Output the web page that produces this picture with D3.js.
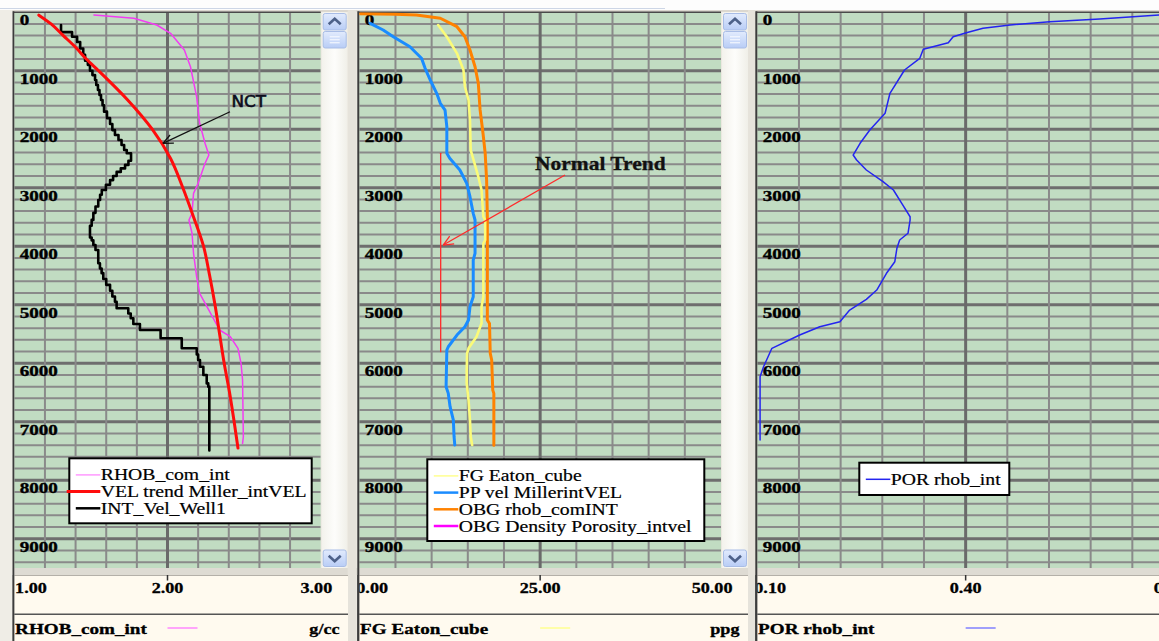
<!DOCTYPE html>
<html>
<head>
<meta charset="utf-8">
<script src="https://cdn.jsdelivr.net/npm/d3@7"></script>
<style>
  html, body { margin: 0; padding: 0; background: #ffffff; overflow: hidden; }
  svg { display: block; }
</style>
</head>
<body>
<svg id="chart" width="1159" height="641"></svg>
<script>
// ---------------------------------------------------------------
// Well-log tracks: depth (ft) vs. log values, three side-by-side tracks
// ---------------------------------------------------------------

// Depth axis
const depthLabels = [0, 1000, 2000, 3000, 4000, 5000, 6000, 7000, 8000, 9000];
const depthMax = 9500;

// Track 1 : density / velocity  [depth, value]
const rhobComInt = [[48,1.52],[104,1.78],[219,1.93],[361,2.02],[646,2.11],[932,2.15],[1444,2.19],[1899,2.21],[2241,2.245],[2441,2.27],[2583,2.245],[2925,2.20],[3096,2.17],[3438,2.16],[3552,2.14],[3779,2.16],[4121,2.17],[4521,2.19],[4805,2.21],[5091,2.27],[5432,2.34],[5547,2.41],[5745,2.46],[6002,2.48],[6287,2.49],[7256,2.495],[7370,2.49]];
const velTrendMiller = [[50,1.16],[200,1.24],[400,1.32],[600,1.40],[800,1.47],[1000,1.55],[1500,1.74],[2000,1.90],[2500,2.02],[3000,2.10],[3500,2.17],[4000,2.235],[4500,2.275],[5000,2.31],[5500,2.34],[6000,2.37],[6500,2.405],[7000,2.435],[7450,2.46]];
const intVelWell1 = [[220,1.305],[340,1.377],[420,1.41],[510,1.43],[620,1.45],[730,1.462],[830,1.48],[900,1.494],[1000,1.51],[1075,1.527],[1160,1.535],[1245,1.546],[1330,1.556],[1415,1.566],[1500,1.576],[1590,1.586],[1700,1.605],[1810,1.625],[1910,1.64],[2015,1.657],[2100,1.68],[2185,1.70],[2270,1.717],[2355,1.734],[2410,1.762],[2540,1.745],[2610,1.723],[2670,1.695],[2730,1.668],[2800,1.645],[2870,1.625],[2950,1.598],[3040,1.571],[3120,1.56],[3210,1.548],[3320,1.53],[3430,1.516],[3550,1.505],[3650,1.494],[3850,1.505],[3900,1.516],[3980,1.53],[4065,1.548],[4290,1.559],[4380,1.57],[4460,1.581],[4560,1.60],[4660,1.625],[4760,1.64],[4860,1.657],[4950,1.668],[5060,1.744],[5150,1.76],[5230,1.777],[5330,1.82],[5433,1.955],[5574,2.093],[5745,2.191],[5850,2.20],[5945,2.212],[6060,2.234],[6200,2.256],[6345,2.266],[6400,2.273],[7490,2.273]];

// Track 2 : pressure gradients (ppg)
const fgEatonCube = [[219,10.9],[419,12.1],[703,13.5],[988,14.4],[1274,14.6],[1501,15.1],[1843,15.3],[2356,15.4],[2527,15.8],[2812,16.45],[3039,16.9],[3496,17.15],[3552,17.4],[3894,17.4],[3950,17.15],[4863,17.15],[5034,16.9],[5318,16.9],[5547,16.2],[5745,15.1],[5831,14.9],[6116,14.85],[6344,14.85],[6629,15.1],[6971,15.3],[7256,15.4],[7398,15.6]];
const ppVelMiller = [[190,1.5],[304,3.3],[419,4.7],[590,7.0],[788,8.6],[959,9.1],[1159,9.8],[1386,10.7],[1557,11.2],[1672,11.85],[1957,12.1],[2412,12.1],[2497,12.5],[2697,13.9],[2925,14.85],[3154,15.3],[3438,15.75],[3552,16.0],[4121,16.0],[4236,15.75],[4863,15.75],[5034,15.3],[5262,15.1],[5376,14.6],[5518,13.5],[5718,12.3],[5775,12.1],[6402,12.0],[6515,12.3],[6743,12.55],[6971,13.0],[7256,13.1],[7398,13.2]];
const obgRhobComInt = [[25,0.1],[35,5.0],[48,7.9],[104,11.2],[248,13.5],[419,14.6],[646,15.3],[932,16.0],[1215,16.45],[1670,16.7],[2070,17.1],[2410,17.4],[2870,17.6],[3500,17.7],[5260,17.7],[5320,18.0],[5830,18.1],[5945,18.3],[6460,18.45],[6515,18.6],[7400,18.6]];
const normalTrend = [[2412,11.25],[5803,11.25]];

// Track 3 : porosity
const porRhobInt = [[30,0.75],[48,0.68],[77,0.641],[116,0.593],[162,0.521],[219,0.464],[275,0.425],[350,0.401],[419,0.382],[521,0.375],[634,0.339],[788,0.334],[988,0.312],[1386,0.291],[1728,0.284],[2014,0.262],[2241,0.248],[2441,0.238],[2527,0.243],[2697,0.257],[2897,0.281],[3039,0.296],[3267,0.308],[3496,0.32],[3552,0.32],[3779,0.317],[3894,0.305],[4036,0.301],[4265,0.298],[4463,0.286],[4749,0.272],[4908,0.257],[5091,0.233],[5291,0.219],[5376,0.19],[5518,0.161],[5745,0.121],[6060,0.109],[6231,0.104],[7312,0.104]];

// Header scale labels per track
const track1Ticks = ["1.00", "2.00", "3.00"];
const track2Ticks = ["0.00", "25.00", "50.00"];
const track3Ticks = ["0.10", "0.40", "0.70"];

// Legend names
const track1Legend = ["RHOB_com_int", "VEL trend Miller_intVEL", "INT_Vel_Well1"];
const track2Legend = ["FG Eaton_cube", "PP vel MillerintVEL", "OBG rhob_comINT", "OBG Density Porosity_intvel"];
const track3Legend = ["POR rhob_int"];

// ---------------------------------------------------------------
const SERIF = "'Liberation Serif','Times New Roman',serif";
const SANS = "'DejaVu Sans','Verdana',sans-serif";
const svg = d3.select("#chart");

const PLOT_TOP = 12.2, PLOT_BOTTOM = 568;
const y = d3.scaleLinear().domain([0, depthMax]).range([PLOT_TOP, PLOT_BOTTOM]);

const tracks = [
  { x0: 14.3, x1: 320.7, domain: [1, 3], ticks: track1Ticks, labelStart: 0.8, scroll: true,
    headerRight: 348, title: "RHOB_com_int", unit: "g/cc", sampleColor: "#ff88ff" },
  { x0: 359.3, x1: 721, domain: [0, 50], ticks: track2Ticks, labelStart: -3, scroll: true,
    headerRight: 748, title: "FG Eaton_cube", unit: "ppg", sampleColor: "#ffff90" },
  { x0: 757.3, x1: 1174, domain: [0.1, 0.7], ticks: track3Ticks, labelStart: -3, scroll: false,
    headerRight: 1190, title: "POR rhob_int", unit: "", sampleColor: "#8080ff" }
];
tracks.forEach(t => { t.x = d3.scaleLinear().domain(t.domain).range([t.x0, t.x1]); });

function stext(g, x, yy, s, o) {
  const el = g.append("text")
    .attr("transform", `translate(${x},${yy}) scale(${o.sx || 1},1)`)
    .attr("text-anchor", o.anchor || "start")
    .attr("font-family", o.family || SERIF)
    .attr("font-size", o.size)
    .attr("font-weight", o.weight || "normal")
    .attr("fill", o.fill || "#000")
    .text(s);
  if (o.heavy) el.attr("stroke", o.fill || "#000").attr("stroke-width", o.heavy);
  return el;
}

const defs = svg.append("defs");
const btnGrad = defs.append("linearGradient").attr("id", "btnGrad").attr("x1", 0).attr("y1", 0).attr("x2", 0).attr("y2", 1);
btnGrad.append("stop").attr("offset", "0%").attr("stop-color", "#e2ebfd");
btnGrad.append("stop").attr("offset", "100%").attr("stop-color", "#b9cdf6");
const trackGrad = defs.append("linearGradient").attr("id", "trackGrad").attr("x1", 0).attr("y1", 0).attr("x2", 1).attr("y2", 0);
trackGrad.append("stop").attr("offset", "0%").attr("stop-color", "#f3f2ec");
trackGrad.append("stop").attr("offset", "50%").attr("stop-color", "#fdfdfb");
trackGrad.append("stop").attr("offset", "100%").attr("stop-color", "#f0efe8");

// Window background
svg.append("rect").attr("width", 1159).attr("height", 641).attr("fill", "#ebe8e0");
svg.append("rect").attr("x", 0).attr("y", 0).attr("width", 1159).attr("height", 10).attr("fill", "#fdfdfd");
svg.append("line").attr("x1", 0).attr("x2", 665).attr("y1", 8.5).attr("y2", 8.5).attr("stroke", "#cdd6e6").attr("stroke-width", 1);
svg.append("rect").attr("x", 0).attr("y", 10).attr("width", 1159).attr("height", 2).attr("fill", "#dcd8d0");
svg.append("rect").attr("x", 0).attr("y", PLOT_BOTTOM).attr("width", 1159).attr("height", 7).attr("fill", "#dedbd3");

tracks.forEach((t, i) => {
  const g = svg.append("g");
  const clipId = "clip" + i;
  defs.append("clipPath").attr("id", clipId).append("rect")
    .attr("x", t.x0).attr("y", PLOT_TOP).attr("width", t.x1 - t.x0).attr("height", PLOT_BOTTOM - PLOT_TOP);

  // plot background
  g.append("rect").attr("x", t.x0).attr("y", PLOT_TOP).attr("width", t.x1 - t.x0)
    .attr("height", PLOT_BOTTOM - PLOT_TOP).attr("fill", "#c1dcc2");

  const grid = g.append("g").attr("clip-path", `url(#${clipId})`);
  // horizontal grid: every 200 ft, heavier every 1000 ft
  d3.range(200, depthMax + 1, 200).forEach(d => {
    const major = d % 1000 === 0;
    grid.append("line").attr("x1", t.x0).attr("x2", t.x1).attr("y1", y(d)).attr("y2", y(d))
      .attr("stroke", major ? "#6e6e6e" : "#8a8a8a").attr("stroke-width", major ? 3 : 2);
  });
  // vertical grid: ten divisions, heavier centre line
  d3.range(1, 10).forEach(k => {
    const v = t.domain[0] + (t.domain[1] - t.domain[0]) * k / 10;
    grid.append("line").attr("x1", t.x(v)).attr("x2", t.x(v)).attr("y1", PLOT_TOP).attr("y2", PLOT_BOTTOM)
      .attr("stroke", k === 5 ? "#6a6a6a" : "#8a8a8a").attr("stroke-width", k === 5 ? 3 : 2);
  });

  // depth labels
  depthLabels.forEach(d => {
    stext(grid, t.x0 + 5.5, y(d) + 12.8, String(d), { size: 14, weight: "bold", sx: 1.36, heavy: 0.35 });
  });

  // frame
  g.append("line").attr("x1", t.x0 - 1).attr("x2", t.x1).attr("y1", PLOT_TOP).attr("y2", PLOT_TOP)
    .attr("stroke", "#4a4a4a").attr("stroke-width", 1.5);
  g.append("line").attr("x1", t.x0 - 1).attr("x2", t.x0 - 1).attr("y1", PLOT_TOP - 1).attr("y2", 641)
    .attr("stroke", "#3c3c3c").attr("stroke-width", 2);

  t.g = g; t.clip = clipId;

  // scrollbar
  if (t.scroll) {
    const sx0 = t.x1 + 1, sw = 26;
    g.append("rect").attr("x", sx0).attr("y", PLOT_TOP).attr("width", sw).attr("height", PLOT_BOTTOM - PLOT_TOP).attr("fill", "url(#trackGrad)");
    const btn = (by, h, kind) => {
      g.append("rect").attr("x", sx0 + 1.5).attr("y", by).attr("width", sw - 3).attr("height", h)
        .attr("rx", 2).attr("fill", "url(#btnGrad)").attr("stroke", "#a9bde6").attr("stroke-width", 1);
      const cx = sx0 + sw / 2, cy = by + h / 2;
      if (kind === "up") {
        g.append("polyline").attr("points", `${cx-6},${cy+2.5} ${cx},${cy-3} ${cx+6},${cy+2.5}`)
          .attr("fill", "none").attr("stroke", "#4d6189").attr("stroke-width", 2.6);
      } else if (kind === "down") {
        g.append("polyline").attr("points", `${cx-6},${cy-2.5} ${cx},${cy+3} ${cx+6},${cy-2.5}`)
          .attr("fill", "none").attr("stroke", "#4d6189").attr("stroke-width", 2.6);
      } else {
        [-3, 0, 3].forEach(o => g.append("line").attr("x1", cx - 5).attr("x2", cx + 5).attr("y1", cy + o).attr("y2", cy + o)
          .attr("stroke", "#f4f7fe").attr("stroke-width", 1.2));
      }
    };
    btn(13.5, 16.5, "up");
    btn(31.5, 16.5, "thumb");
    btn(550, 16.5, "down");
    // gap between tracks
    g.append("rect").attr("x", sx0 + sw).attr("y", PLOT_TOP - 2).attr("width", 8.5).attr("height", 641).attr("fill", "#e6e3db");
  }

  // header (scale) panel
  const hx0 = t.x0 - 0.5, hx1 = t.headerRight;
  defs.append("clipPath").attr("id", "hclip" + i).append("rect")
    .attr("x", hx0 + 0.5).attr("y", 575).attr("width", hx1 - hx0).attr("height", 66);
  const hg = svg.append("g").attr("clip-path", `url(#hclip${i})`);
  hg.append("rect").attr("x", hx0).attr("y", 575).attr("width", hx1 - hx0).attr("height", 66).attr("fill", "#fffaef");
  hg.append("line").attr("x1", hx0).attr("x2", hx1).attr("y1", 575.5).attr("y2", 575.5).attr("stroke", "#b4b0a8").attr("stroke-width", 1);
  const mid = (t.domain[0] + t.domain[1]) / 2;
  hg.append("line").attr("x1", t.x(mid)).attr("x2", t.x(mid)).attr("y1", 575).attr("y2", 580.5)
    .attr("stroke", "#333").attr("stroke-width", 1.5);
  const hs = { size: 14.5, weight: "bold", sx: 1.25, heavy: 0.3 };
  stext(hg, t.x0 + t.labelStart, 593, t.ticks[0], hs);
  stext(hg, t.x(mid), 593, t.ticks[1], Object.assign({}, hs, { anchor: "middle" }));
  stext(hg, t.x1 + 11.5, 593, t.ticks[2], Object.assign({}, hs, { anchor: "end" }));
  hg.append("line").attr("x1", hx0).attr("x2", hx1).attr("y1", 614.3).attr("y2", 614.3).attr("stroke", "#555").attr("stroke-width", 1.5);
  stext(hg, t.x0 + 0.8, 634, t.title, Object.assign({}, hs, { sx: 1.32 }));
  hg.append("line").attr("x1", t.x(mid)).attr("x2", t.x(mid) + 30).attr("y1", 628).attr("y2", 628)
    .attr("stroke", t.sampleColor).attr("stroke-width", 1.5);
  if (t.unit) stext(hg, hx1 - 8.5, 634, t.unit, Object.assign({}, hs, { anchor: "end" }));
  svg.append("line").attr("x1", t.x0 - 1).attr("x2", t.x0 - 1).attr("y1", 575).attr("y2", 641)
    .attr("stroke", "#3c3c3c").attr("stroke-width", 2);
});

// left window margin
svg.append("rect").attr("x", 0).attr("y", 10).attr("width", 12.3).attr("height", 631).attr("fill", "#efede6");

// ---------------------------------------------------------------
// curves
function drawCurve(t, data, color, width, curve) {
  const line = d3.line().x(d => t.x(d[1])).y(d => y(d[0])).curve(curve || d3.curveLinear);
  svg.append("path").attr("clip-path", `url(#${t.clip})`).datum(data).attr("d", line)
    .attr("fill", "none").attr("stroke", color).attr("stroke-width", width)
    .attr("stroke-linejoin", "round").attr("stroke-linecap", "round");
}
const [T1, T2, T3] = tracks;
drawCurve(T1, rhobComInt, "#f23cf2", 1.5);
drawCurve(T1, intVelWell1, "#000000", 2.6, d3.curveStepBefore);
drawCurve(T1, velTrendMiller, "#ff0c0c", 3, d3.curveMonotoneY);

drawCurve(T2, obgRhobComInt, "#ff8200", 3);
drawCurve(T2, fgEatonCube, "#fbfb78", 2.6);
drawCurve(T2, ppVelMiller, "#1a8cff", 3);
drawCurve(T2, normalTrend, "#ff2a2a", 1.3);

drawCurve(T3, porRhobInt, "#2424f0", 1.5);

// ---------------------------------------------------------------
// annotations
function arrow(x1, y1, x2, y2, color, w) {
  svg.append("line").attr("x1", x1).attr("y1", y1).attr("x2", x2).attr("y2", y2)
    .attr("stroke", color).attr("stroke-width", w);
  const a = Math.atan2(y2 - y1, x2 - x1), L = 11, s = 0.42;
  [a + Math.PI - s, a + Math.PI + s].forEach(b => {
    svg.append("line").attr("x1", x2).attr("y1", y2)
      .attr("x2", x2 + L * Math.cos(b)).attr("y2", y2 + L * Math.sin(b))
      .attr("stroke", color).attr("stroke-width", w);
  });
}
// NCT: arrow to the compaction trend line
{
  const tail = [T1.x(2.408), y(1701)], tip = [T1.x(1.97), y(2241)];
  arrow(tail[0], tail[1], tip[0], tip[1], "#111", 1.3);
  stext(svg, tail[0] + 1.5, tail[1] - 4.5, "NCT", { size: 16, family: SANS, sx: 1.05, fill: "#0c0c1c", heavy: 0.6 });
}
// Normal Trend
{
  const tail = [T2.x(28.44), y(2783)], tip = [T2.x(11.6), y(3980)];
  arrow(tail[0], tail[1], tip[0], tip[1], "#ff2a2a", 1.3);
  stext(svg, tail[0] - 30, tail[1] - 5, "Normal Trend", { size: 19, weight: "bold", sx: 1.13, fill: "#111", heavy: 0.3 });
}

// ---------------------------------------------------------------
// legends
function legend(box, names, styles) {
  const g = svg.append("g");
  g.append("rect").attr("x", box.x).attr("y", box.y).attr("width", box.w).attr("height", box.h)
    .attr("fill", "#ffffff").attr("stroke", "#000").attr("stroke-width", 2);
  names.forEach((n, i) => {
    const cy = box.y + 16.6 + i * 16.7;
    const st = styles[i];
    g.append("line").attr("x1", box.x + (st.from != null ? st.from : 6.5)).attr("x2", box.x + 31)
      .attr("y1", cy).attr("y2", cy).attr("stroke", st.color).attr("stroke-width", st.width);
    stext(g, box.x + 31.5, cy + 5.5, n, { size: 16, sx: 1.23, heavy: 0.2 });
  });
}
legend({ x: 69.3, y: 458.3, w: 242.4, h: 65 }, track1Legend, [
  { color: "#ff99ff", width: 1.5 }, { color: "#ff0c0c", width: 3, from: -2.6 }, { color: "#000", width: 2.5 }
]);
legend({ x: 427.3, y: 459.3, w: 277, h: 81.7 }, track2Legend, [
  { color: "#ffff90", width: 1.5 }, { color: "#1a8cff", width: 2.5 }, { color: "#ff8200", width: 2.5 }, { color: "#ff00ff", width: 2.5 }
]);
legend({ x: 859.3, y: 462.7, w: 150, h: 32.3 }, track3Legend, [
  { color: "#2424f0", width: 1.5 }
]);
</script>
</body>
</html>
